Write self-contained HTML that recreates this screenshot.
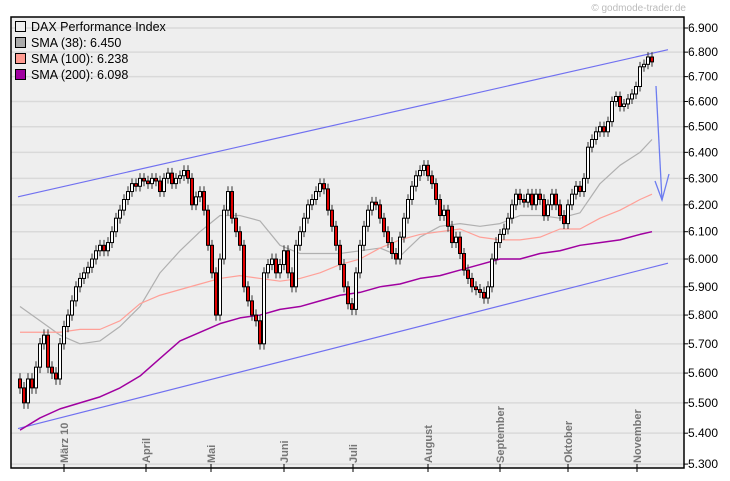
<!DOCTYPE html>
<html><head><meta charset="utf-8"><style>
html,body{margin:0;padding:0;background:#fff;width:730px;height:481px;overflow:hidden;font-family:"Liberation Sans",sans-serif}
svg{display:block}
</style></head><body>
<svg id="c" width="730" height="481" xmlns="http://www.w3.org/2000/svg"></svg>
<script>
const yTicks=[6.9,6.8,6.7,6.6,6.5,6.4,6.3,6.2,6.1,6.0,5.9,5.8,5.7,5.6,5.5,5.4,5.3];
const yTickLabels=["6.900","6.800","6.700","6.600","6.500","6.400","6.300","6.200","6.100","6.000","5.900","5.800","5.700","5.600","5.500","5.400","5.300"];
const months=["März 10","April","Mai","Juni","Juli","August","September","Oktober","November"];
const monthIdx=[11,31.5,47.75,66,83.25,102,120,137,154.25];
const closes=[5.55,5.50,5.58,5.55,5.62,5.70,5.73,5.62,5.60,5.58,5.70,5.76,5.80,5.85,5.90,5.93,5.95,5.97,6.00,6.03,6.05,6.03,6.06,6.10,6.15,6.18,6.22,6.25,6.28,6.27,6.30,6.29,6.28,6.30,6.29,6.25,6.30,6.32,6.28,6.30,6.31,6.33,6.30,6.20,6.23,6.25,6.18,6.05,5.95,5.80,6.00,6.18,6.25,6.15,6.10,6.05,5.90,5.85,5.80,5.78,5.70,5.95,5.98,6.00,5.95,5.98,6.03,5.95,5.90,6.05,6.10,6.15,6.20,6.22,6.25,6.28,6.26,6.18,6.12,6.05,5.98,5.90,5.84,5.82,5.95,6.05,6.12,6.18,6.21,6.20,6.15,6.10,6.06,6.02,6.00,6.08,6.15,6.22,6.27,6.31,6.33,6.35,6.31,6.28,6.22,6.16,6.18,6.12,6.06,6.08,6.02,5.96,5.93,5.90,5.89,5.88,5.86,5.90,6.00,6.06,6.09,6.11,6.15,6.20,6.24,6.22,6.21,6.24,6.20,6.24,6.22,6.16,6.20,6.24,6.20,6.16,6.13,6.20,6.24,6.27,6.25,6.30,6.42,6.45,6.48,6.50,6.48,6.52,6.60,6.62,6.58,6.59,6.61,6.63,6.66,6.74,6.75,6.78,6.76];
const smaIdx=[0,5,10,15,20,25,30,35,40,45,50,55,60,65,70,75,80,85,90,95,100,105,110,115,120,125,130,135,140,145,150,155,158];
const sma38=[5.83,5.78,5.73,5.70,5.71,5.76,5.83,5.95,6.03,6.10,6.16,6.16,6.14,6.05,6.02,6.02,6.02,6.03,6.04,6.01,6.08,6.12,6.13,6.12,6.13,6.16,6.16,6.15,6.17,6.28,6.35,6.40,6.45];
const sma100=[5.74,5.74,5.74,5.75,5.75,5.78,5.84,5.87,5.89,5.91,5.93,5.94,5.93,5.92,5.93,5.95,5.98,6.00,6.04,6.07,6.09,6.10,6.11,6.08,6.07,6.07,6.08,6.11,6.11,6.15,6.18,6.22,6.24];
const sma200=[5.41,5.45,5.48,5.50,5.52,5.55,5.59,5.65,5.71,5.74,5.77,5.79,5.80,5.82,5.83,5.85,5.87,5.88,5.90,5.91,5.93,5.94,5.96,5.98,6.00,6.00,6.02,6.03,6.05,6.06,6.07,6.09,6.10];
const upperLine=[[-0.5,6.23],[162,6.81]];
const lowerLine=[[-0.5,5.415],[162,5.985]];

const NS="http://www.w3.org/2000/svg",svg=document.getElementById('c');
const L=11,R=684,T=17,B=468;
function X(i){return 20+i*4;}
function Y(v){return 28+1653*Math.log(6.9/v);}
function mk(t,a,p){const e=document.createElementNS(NS,t);for(const k in a)e.setAttribute(k,a[k]);(p||svg).appendChild(e);return e;}

const bg=mk('rect',{x:L,y:T,width:R-L,height:B-T,fill:'#eeeeee'});


yTicks.forEach((v,k)=>{
 const g=mk('line',{x1:L,x2:R,y1:Y(v),y2:Y(v),stroke:'#d9d9d9','stroke-width':1.5});
 
 
 mk('line',{x1:R,x2:R+4,y1:Y(v),y2:Y(v),stroke:'#000'});
 const t=mk('text',{x:688,y:Y(v)+4,'font-size':12,fill:'#000'});t.textContent=yTickLabels[k];
 
 
});
months.forEach((m,k)=>{
 const x=X(monthIdx[k]);
 mk('line',{x1:x,x2:x,y1:B-4,y2:B+4,stroke:'#000'});
 const t=mk('text',{x:0,y:0,'font-size':11,'font-weight':'bold',fill:'#777','text-anchor':'start',transform:`translate(${x+4},${B-5}) rotate(-90)`});
 t.textContent=m;
 
 
});
function poly(idx,vals,col,w,name){
 const p=mk('polyline',{points:vals.map((v,k)=>X(idx[k])+','+Y(v)).join(' '),fill:'none',stroke:col,'stroke-width':w,'stroke-linejoin':'round'});
 
 
}
poly(upperLine.map(a=>a[0]),upperLine.map(a=>a[1]),'#7070f0',1.2,'upper-trend-channel');
poly(lowerLine.map(a=>a[0]),lowerLine.map(a=>a[1]),'#7070f0',1.2,'lower-trend-channel');
poly(smaIdx,sma38,'#b0b0b0',1.2,'sma-38-line');
poly(smaIdx,sma100,'#ffa098',1.2,'sma-100-line');
poly(smaIdx,sma200,'#a000a0',1.5,'sma-200-line');
closes.forEach((c,i)=>{
 const o=i?closes[i-1]:5.58,x=X(i),hi=Math.max(o,c),lo=Math.min(o,c);
 const w=mk('line',{x1:x,x2:x,y1:Y(hi+0.02),y2:Y(lo-0.02),stroke:'#333'});
 
 
 const b=mk('rect',{x:x-1.5,y:Y(hi),width:3,height:Math.max(1,Y(lo)-Y(hi)),fill:c<o?'#e00000':'#fff',stroke:'#000','stroke-width':1});
 
 
});
const ar=mk('g',{stroke:'#6c7cf0','stroke-width':1.3,fill:'none'});


mk('line',{x1:656,y1:86,x2:662,y2:200},ar);
mk('polyline',{points:'655,181 662,200 669,174'},ar);
const fr=mk('path',{d:`M${L},${T}H${R}V${B}H${L}Z`,fill:'none',stroke:'#000','stroke-width':1.5});


const cp=mk('text',{x:686,y:11,'font-size':10,fill:'#bbb','text-anchor':'end'});cp.textContent='© godmode-trader.de';


const leg=[['DAX Performance Index','#eee'],['SMA (38): 6.450','#aaa'],['SMA (100): 6.238','#ff9a90'],['SMA (200): 6.098','#a000a0']];
leg.forEach((l,k)=>{
 const y=21+k*16;
 const s=mk('rect',{x:15.5,y:y+0.5,width:10,height:10,fill:l[1],stroke:'#000'});
 
 
 const t=mk('text',{x:31,y:y+10,'font-size':12.5,fill:'#000'});t.textContent=l[0];
 
 
});
</script>
</body></html>
